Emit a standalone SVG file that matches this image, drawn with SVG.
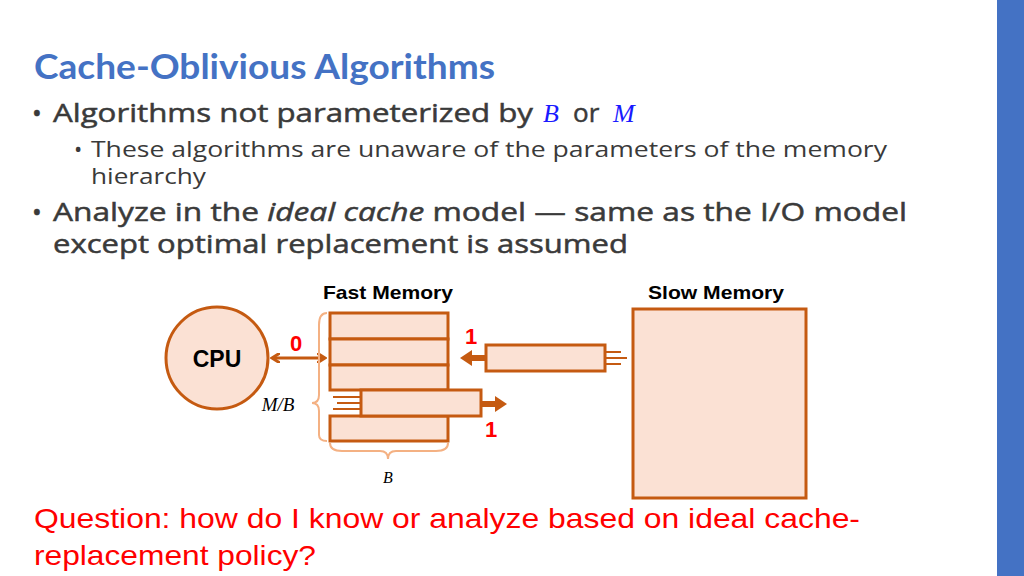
<svg xmlns="http://www.w3.org/2000/svg" width="1024" height="576" viewBox="0 0 1024 576">
<style>
.t{font-family:"Open Sans","DejaVu Sans",sans-serif;fill:#3a3a3a;stroke:#3a3a3a;stroke-width:0.5}
.s{font-family:"Open Sans","DejaVu Sans",sans-serif;fill:#3a3a3a}
.a{font-family:"Liberation Sans",Arial,sans-serif;font-weight:bold}
.r{fill:#fbe1d4;stroke:#c55a11;stroke-width:3}
.m{font-family:"Liberation Serif",serif;font-style:italic;stroke:none}
.ln{stroke:#c55a11;stroke-width:3;fill:none}
</style>
<defs>
<marker id="h" markerWidth="10" markerHeight="10" refX="7" refY="5" orient="auto-start-reverse" markerUnits="userSpaceOnUse"><path d="M0,0 L8,5 L0,10" fill="none" stroke="#c55a11" stroke-width="3"/></marker>
</defs>
<rect width="1024" height="576" fill="#fff"/>
<rect x="997" y="0" width="27" height="576" fill="#4472c4"/>
<text x="34" y="79" font-family="Lato,'Open Sans',sans-serif" font-size="35" font-weight="bold" fill="#4472c4" textLength="461" lengthAdjust="spacingAndGlyphs">Cache-Oblivious Algorithms</text>
<text class="t" font-size="26" x="32" y="122">•</text>
<text class="t" font-size="26" x="53" y="122" textLength="480" lengthAdjust="spacingAndGlyphs">Algorithms not parameterized by</text>
<text class="m" font-size="26" x="543" y="122" fill="#1a1aff">B</text>
<text class="t" font-size="26" x="573" y="122">or</text>
<text class="m" font-size="26" x="613" y="122" fill="#1a1aff">M</text>
<text class="s" font-size="22" x="74" y="157">•</text>
<text class="s" font-size="22" x="91" y="157" textLength="796" lengthAdjust="spacingAndGlyphs">These algorithms are unaware of the parameters of the memory</text>
<text class="s" font-size="22" x="91" y="184" textLength="115" lengthAdjust="spacingAndGlyphs">hierarchy</text>
<text class="t" font-size="26" x="32" y="221">•</text>
<text class="t" font-size="26" x="53" y="221" textLength="854" lengthAdjust="spacingAndGlyphs">Analyze in the <tspan font-style="italic">ideal cache</tspan> model — same as the I/O model</text>
<text class="t" font-size="26" x="53" y="253" textLength="575" lengthAdjust="spacingAndGlyphs">except optimal replacement is assumed</text>
<text class="a" font-size="19" x="388" y="299" text-anchor="middle" textLength="130" lengthAdjust="spacingAndGlyphs">Fast Memory</text>
<text class="a" font-size="19" x="716" y="299" text-anchor="middle" textLength="136" lengthAdjust="spacingAndGlyphs">Slow Memory</text>
<g id="cpu"><circle cx="217" cy="358" r="51" class="r"/><text class="a" font-size="23" x="217" y="367" text-anchor="middle">CPU</text></g>
<g id="fast">
<rect class="r" x="330" y="313" width="118" height="26"/>
<rect class="r" x="330" y="339" width="118" height="26"/>
<rect class="r" x="330" y="365" width="118" height="25"/>
<rect class="r" x="330" y="416" width="118" height="25"/>
<rect class="r" x="361" y="390" width="120" height="26"/>
<path d="M333,397 H361 M337,403 H361 M333,409 H361" stroke="#c55a11" stroke-width="2"/>
</g>
<g id="incoming">
<rect class="r" x="486" y="345" width="119" height="26"/>
<path d="M605,352 H621 M605,358 H627 M605,364 H621" stroke="#c55a11" stroke-width="2"/>
</g>
<g id="slow"><rect class="r" x="633" y="309" width="173" height="189"/></g>
<g id="connectors">
<line class="ln" x1="273" y1="358" x2="324" y2="358" marker-start="url(#h)" marker-end="url(#h)"/>
<path d="M486,355 H472 V350 L460,358 L472,366 V361 H486Z" fill="#c55a11"/>
<path d="M481,401 H495 V396 L507,404 L495,412 V407 H481Z" fill="#c55a11"/>
<path d="M327,313 Q319,313 319,325 V395 Q319,403 312,403 Q319,403 319,411 V435 Q319,441 327,441" fill="none" stroke="#f4b183" stroke-width="2"/>
<path d="M330,443 Q330,451 342,451 H380 Q388,451 388,459 Q388,451 396,451 H436 Q448,451 448,443" fill="none" stroke="#f4b183" stroke-width="2"/>
</g>
<text class="a" font-size="22" fill="#ff0000" x="296" y="351" text-anchor="middle">0</text>
<text class="a" font-size="22" fill="#ff0000" x="471" y="344" text-anchor="middle">1</text>
<text class="a" font-size="22" fill="#ff0000" x="491" y="437" text-anchor="middle">1</text>
<text class="m" font-size="19" x="278" y="411" text-anchor="middle">M/B</text>
<text class="m" font-size="16" x="388" y="483" text-anchor="middle">B</text>
<text font-family="'Liberation Sans',Arial,sans-serif" font-size="28" fill="#ff0000" x="34" y="528" textLength="826" lengthAdjust="spacingAndGlyphs">Question: how do I know or analyze based on ideal cache-</text>
<text font-family="'Liberation Sans',Arial,sans-serif" font-size="28" fill="#ff0000" x="34" y="565" textLength="282" lengthAdjust="spacingAndGlyphs">replacement policy?</text>
</svg>
